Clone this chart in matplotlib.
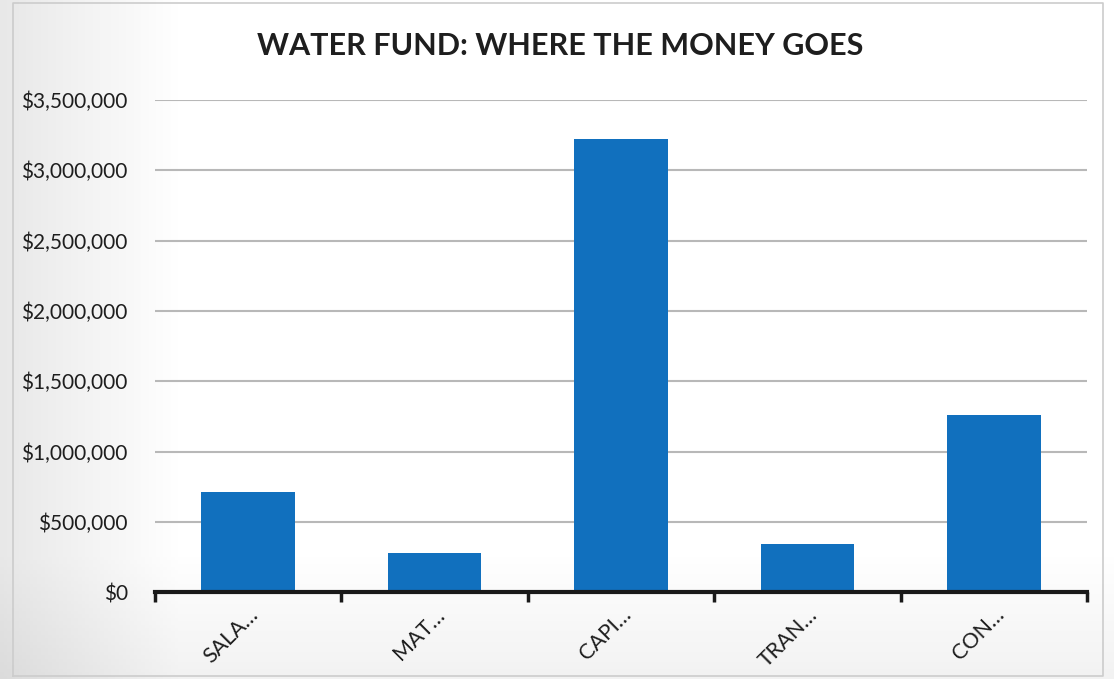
import numpy as np
import matplotlib.pyplot as plt
from matplotlib.ticker import FuncFormatter, MultipleLocator

categories = ["SALA…", "MAT…", "CAPI…", "TRAN…", "CON…"]
amounts = [710000, 275000, 3225000, 340000, 1260000]
title = "WATER FUND: WHERE THE MONEY GOES"

plt.rcParams['font.family'] = ['Lato', 'DejaVu Sans']

fig = plt.figure(figsize=(11.14, 6.79), dpi=100)

# soft grey page tone around the chart
bg = fig.add_axes([0, 0, 1, 1], zorder=-10)
gx = np.linspace(0, 1, 300)
gy = np.linspace(0, 1, 200)
X, Y = np.meshgrid(gx, gy)
shade = (1 - 0.09 * np.clip(1 - X / 0.16, 0, 1)
         - 0.05 * np.clip((Y - 0.82) / 0.18, 0, 1))
bg.imshow(np.dstack([shade, shade, shade]), extent=[0, 1, 0, 1], origin='upper',
          aspect='auto')
bg.plot([0.012, 0.012, 0.99, 0.99, 0.012], [0.005, 0.995, 0.995, 0.005, 0.005],
        color='#cccccc', lw=1.2, transform=bg.transAxes)
bg.set_xlim(0, 1)
bg.set_ylim(0, 1)
bg.axis('off')

ax = fig.add_axes([0.139, 0.128, 0.837, 0.7246])
ax.patch.set_alpha(0)
x = np.arange(len(categories))
ax.bar(x, amounts, width=0.5, color='#1170be', zorder=3)

ax.set_xlim(-0.5, len(categories) - 0.5)
ax.set_ylim(0, 3500000)
ax.yaxis.set_major_locator(MultipleLocator(500000))
ax.yaxis.set_major_formatter(FuncFormatter(lambda v, p: f"${v:,.0f}"))
ax.grid(axis='y', color='#b8b8b8', lw=1.5, zorder=0)
ax.set_axisbelow(True)

for s in ['top', 'right', 'left']:
    ax.spines[s].set_visible(False)
ax.spines['bottom'].set_color('#1a1a1a')
ax.spines['bottom'].set_linewidth(3)
ax.spines['bottom'].set_zorder(4)

ax.tick_params(axis='y', length=0, pad=19.5, labelsize=15, labelcolor='#1e1e1e')
ax.set_xticks(x)
ax.set_xticklabels(categories, rotation=45, ha='right', rotation_mode='anchor',
                   fontsize=15.5, color='#1e1e1e')
ax.tick_params(axis='x', which='major', length=0, pad=9)
ax.set_xticks(np.arange(-0.5, len(categories)), minor=True)
ax.tick_params(axis='x', which='minor', length=7, width=2.5, color='#1a1a1a')

fig.text(0.503, 0.932, title, ha='center', va='center', fontsize=22,
         fontweight='bold', color='#1e1e1e')

fig.savefig('out.png', dpi=100)
